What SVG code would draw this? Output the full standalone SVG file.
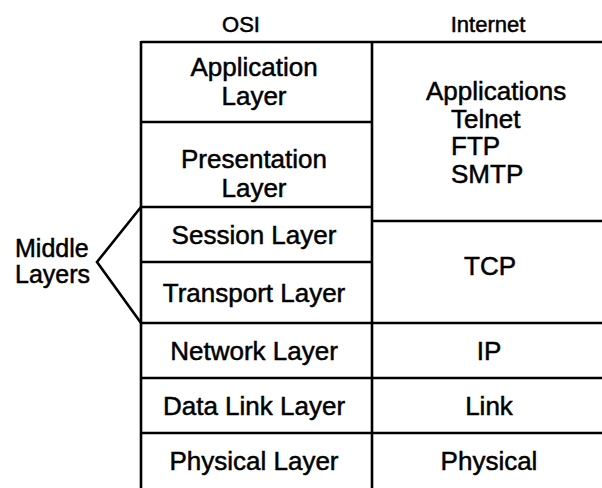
<svg xmlns="http://www.w3.org/2000/svg" width="602" height="488" viewBox="0 0 602 488">
<style>
text{font-family:"Liberation Sans",Arial,Helvetica,sans-serif;fill:#000;stroke:#000;stroke-width:0.5}
.c{text-anchor:middle;font-size:26px}
.l{font-size:26px}
.m{font-size:25px}
.h{text-anchor:middle;font-size:22px}
.ln{stroke:#000;stroke-width:2.6;fill:none}
</style>
<rect width="602" height="488" fill="#fff"/>
<g id="headers">
<text class="h" x="241" y="32">OSI</text>
<text class="h" x="488" y="32">Internet</text>
</g>
<g id="connectors">
<path class="ln" d="M141 42H602M141 122H372M141 207H372M372 221H602M141 262H372M141 323H602M141 378H602M141 433H602"/>
<path class="ln" d="M141 41V488M372 41V488"/>
<path class="ln" d="M141 207L97 262L141 323"/>
</g>
<g id="application"><text class="c" x="254" y="76">Application</text><text class="c" x="254" y="105">Layer</text></g>
<g id="presentation"><text class="c" x="254" y="168">Presentation</text><text class="c" x="254" y="197">Layer</text></g>
<g id="session"><text class="c" x="254" y="244">Session Layer</text></g>
<g id="transport"><text class="c" x="254" y="302">Transport Layer</text></g>
<g id="network"><text class="c" x="254" y="360">Network Layer</text></g>
<g id="datalink"><text class="c" x="254" y="415">Data Link Layer</text></g>
<g id="physical"><text class="c" x="254" y="470">Physical Layer</text></g>
<g id="middle-layers"><text class="m" x="15" y="257">Middle</text><text class="m" x="15" y="283">Layers</text></g>
<g id="applications">
<text class="l" x="426" y="100">Applications</text>
<text class="l" x="451" y="128">Telnet</text>
<text class="l" x="451" y="155">FTP</text>
<text class="l" x="451" y="183">SMTP</text>
</g>
<g id="tcp"><text class="c" x="490" y="275">TCP</text></g>
<g id="ip"><text class="c" x="489" y="360">IP</text></g>
<g id="link"><text class="c" x="489" y="415">Link</text></g>
<g id="physical-inet"><text class="c" x="489" y="470">Physical</text></g>
</svg>
